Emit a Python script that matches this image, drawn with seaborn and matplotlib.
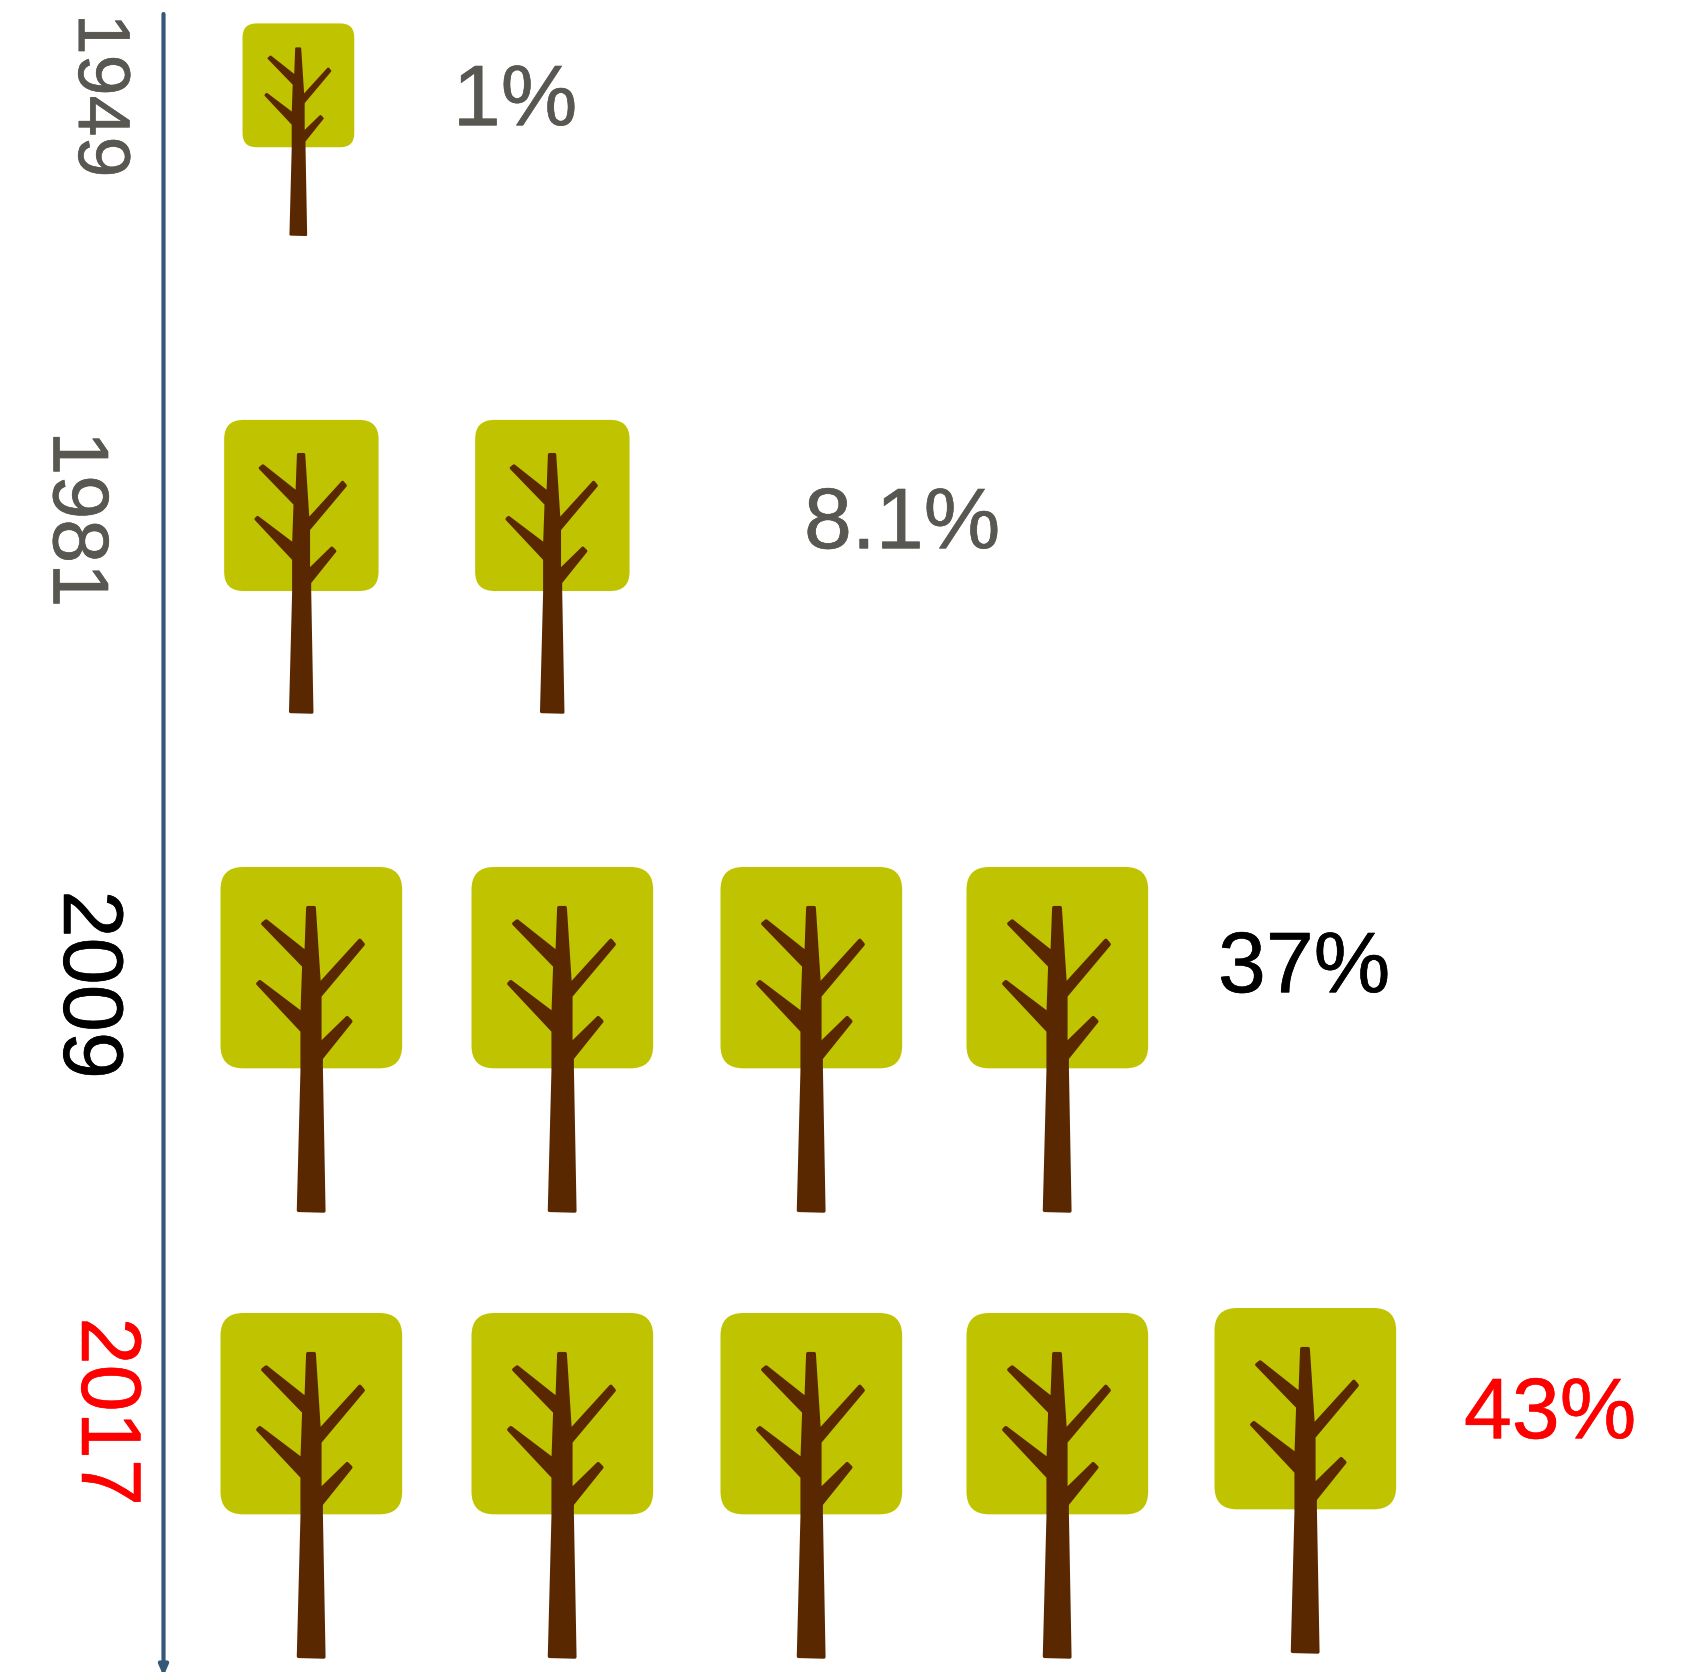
import numpy as np
import pandas as pd
import seaborn as sns
import matplotlib
matplotlib.use('Agg')
import matplotlib.pyplot as plt
import matplotlib.patheffects as pe
from matplotlib.path import Path

# Data
years = ['1949', '1981', '2009', '2017']
share_labels = ['1%', '8.1%', '37%', '43%']
tree_counts = [1, 2, 4, 5]

# Layout, in pixels of the picture
tree_x = [[298], [301, 552], [311, 562, 811, 1057], [311, 562, 811, 1057, 1305]]
tree_y = [[129], [566], [1038.5], [1484.5, 1484.5, 1484.5, 1484.5, 1480]]
tree_scale = [0.615, 0.85, 1.0, 1.0]
year_x = [98, 74, 86, 104]
year_y = [96, 519, 985, 1412]
year_size = [53, 57, 61, 61]
share_x = [515, 902, 1304, 1550]
share_y = [103, 526, 970, 1416]
share_size = [62, 62, 62, 62]
text_colors = ['#595751', '#595751', '#000000', '#ff0000']

crown_color = '#c0c400'
trunk_color = '#5a2800'
axis_color = '#35587a'

MARKER_R = 200  # far corner kept in both shapes so they scale the same


def to_marker(zx, zy):
    # marker y points up, shape was measured with y down
    return np.column_stack([(np.array(zx) - 333) / 3, 198.5 - np.array(zy) / 3])


def trunk_path():
    zx = [322, 341, 356, 478, 488, 358, 358, 440, 451, 362, 362, 370, 294, 305,
          305, 172, 178, 305, 310, 187, 197, 317]
    zy = [200, 200, 432, 298, 310, 465, 610, 530, 541, 652, 680, 1110, 1108, 690,
          570, 428, 422, 518, 375, 248, 240, 335]
    pts = to_marker(zx, zy)
    verts = [(MARKER_R, MARKER_R)] + [tuple(p) for p in pts] + [tuple(pts[0])]
    codes = [Path.MOVETO, Path.MOVETO] + [Path.LINETO] * (len(pts) - 1) + [Path.CLOSEPOLY]
    return Path(verts, codes)


def crown_path():
    l, r, t, b = 60, 605, 78, 682
    c = 68
    zx = [l + c, r - c, r, r, r, r, r - c, l + c, l, l, l, l, l + c]
    zy = [t, t, t, t + c, b - c, b, b, b, b, b - c, t + c, t, t]
    pts = to_marker(zx, zy)
    verts = [(MARKER_R, MARKER_R)] + [tuple(p) for p in pts]
    codes = [Path.MOVETO, Path.MOVETO, Path.LINETO, Path.CURVE3, Path.CURVE3, Path.LINETO,
             Path.CURVE3, Path.CURVE3, Path.LINETO, Path.CURVE3, Path.CURVE3, Path.LINETO,
             Path.CURVE3, Path.CURVE3]
    return Path(verts, codes)


sns.set_theme(style='white')
plt.rcParams['font.family'] = ['Liberation Sans', 'DejaVu Sans']
plt.rcParams['text.hinting'] = 'none'
plt.rcParams['text.hinting_factor'] = 1

fig, ax = plt.subplots(figsize=(16.87, 16.72), dpi=100)
ax.set_position([0, 0, 1, 1])

crown = crown_path()
trunk = trunk_path()

# Trees, one row per year
for i, year in enumerate(years):
    row = pd.DataFrame({'x': tree_x[i][:tree_counts[i]],
                        'y': (tree_y[i] * tree_counts[i])[:tree_counts[i]]})
    if len(tree_y[i]) > 1:
        row['y'] = tree_y[i]
    # marker size in pt^2, marker runs -R..R over sqrt(s) pt
    s = (tree_scale[i] * 2 * MARKER_R * 0.72) ** 2
    sns.scatterplot(data=row, x='x', y='y', marker=crown, s=s, color=crown_color,
                    linewidth=0, legend=False, ax=ax)
    sns.scatterplot(data=row, x='x', y='y', marker=trunk, s=s, color=trunk_color,
                    edgecolor=trunk_color, linewidth=2.5 * tree_scale[i], legend=False, ax=ax)

    # a thin stroke, the reference text is a bit heavier than the font
    heavier = [pe.withStroke(linewidth=0.4, foreground=text_colors[i])]
    ax.text(year_x[i], year_y[i], year, rotation=270, ha='center', va='center',
            fontsize=year_size[i], color=text_colors[i], path_effects=heavier)
    ax.text(share_x[i], share_y[i], share_labels[i], ha='center', va='center',
            fontsize=share_size[i], color=text_colors[i], path_effects=heavier)

# Time axis
ax.annotate('', xy=(163.5, 1676), xytext=(163.5, 14), annotation_clip=False,
            arrowprops=dict(arrowstyle='-|>,head_width=0.22,head_length=0.5', color=axis_color,
                            lw=3.0, shrinkA=0, shrinkB=0))

ax.set_xlim(0, 1687)
ax.set_ylim(1672, 0)
ax.axis('off')

plt.savefig('out.png', dpi=100)
plt.close()
